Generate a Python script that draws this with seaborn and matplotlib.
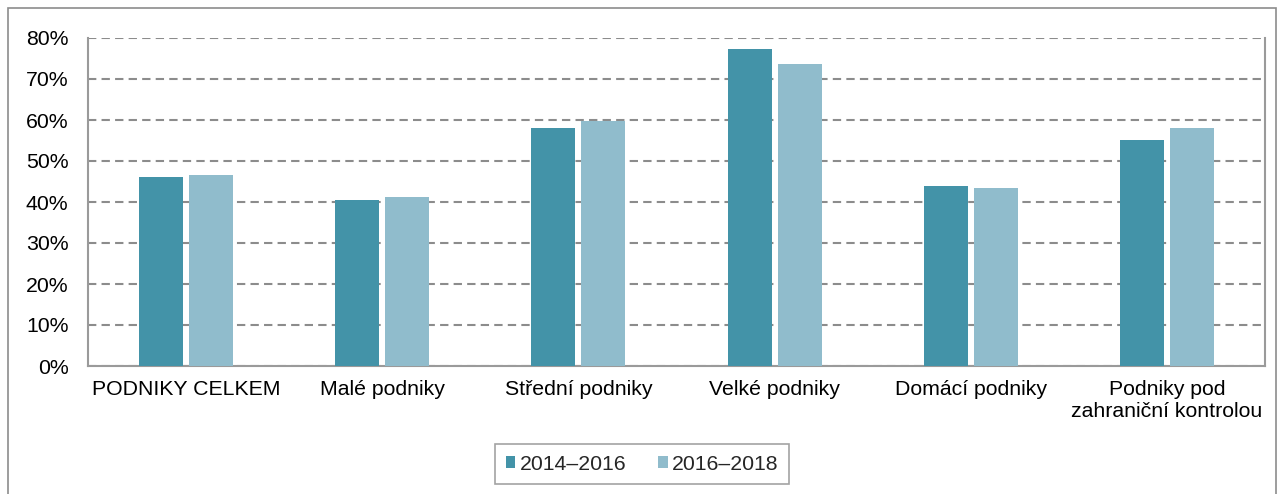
import pandas as pd
import matplotlib.pyplot as plt
import seaborn as sns
from matplotlib.patches import Rectangle
from matplotlib.ticker import FuncFormatter

# data
categories = ["PODNIKY CELKEM", "Malé podniky", "Střední podniky", "Velké podniky",
              "Domácí podniky", "Podniky pod\nzahraniční kontrolou"]
periods = ["2014\u20132016", "2016\u20132018"]
vals_2014_2016 = [46.2, 40.6, 58.1, 77.3, 43.9, 55.1]
vals_2016_2018 = [46.7, 41.1, 59.8, 73.6, 43.4, 58.1]
colors = ["#4393a8", "#90bccc"]

df = pd.DataFrame({
    "kategorie": categories * 2,
    "obdobi": [periods[0]] * len(categories) + [periods[1]] * len(categories),
    "podil": vals_2014_2016 + vals_2016_2018,
})

sns.set_theme(style="white")
plt.rcParams["font.family"] = ["Liberation Sans", "DejaVu Sans"]
FS = 15.3

fig = plt.figure(figsize=(12.84, 4.94), dpi=100)
ax = fig.add_axes([88 / 1284, 1 - 366 / 494, (1265 - 88) / 1284, (366 - 38) / 494])

sns.barplot(data=df, x="kategorie", y="podil", hue="obdobi", palette=colors,
            width=0.51, gap=0.12, saturation=1, linewidth=0, ax=ax, zorder=3)

ax.set_ylim(0, 80)
ax.set_yticks(range(0, 81, 10))
ax.yaxis.set_major_formatter(FuncFormatter(lambda v, p: f"{v:.0f}%"))
ax.set_xlabel("")
ax.set_ylabel("")
ax.yaxis.grid(True, color="#8c8c8c", linestyle=(0, (4, 2.5)), linewidth=1.5, zorder=0)
ax.set_axisbelow(True)
ax.tick_params(axis="both", labelsize=FS, colors="black", length=0)
ax.tick_params(axis="x", pad=10)
ax.tick_params(axis="y", pad=14)

for side in ["left", "bottom", "right"]:
    ax.spines[side].set_visible(True)
    ax.spines[side].set_color("#9a9a9a")
    ax.spines[side].set_linewidth(1.5)
ax.spines["top"].set_visible(False)

ax.legend(loc="center", bbox_to_anchor=(0.5, 1 - 464 / 494), bbox_transform=fig.transFigure,
          ncol=2, frameon=True, fancybox=False, edgecolor="#8c8c8c", fontsize=FS,
          handlelength=0.45, handleheight=0.45, handletextpad=0.2, columnspacing=1.5,
          borderpad=0.5, borderaxespad=0)
ax.get_legend().get_frame().set_linewidth(1.2)

fig.patches.append(Rectangle((8 / 1284, -0.02), (1276 - 8) / 1284, 1.02 - 8 / 494,
                             transform=fig.transFigure, fill=False,
                             edgecolor="#8c8c8c", linewidth=1.2))

fig.savefig("out.png", dpi=100)
